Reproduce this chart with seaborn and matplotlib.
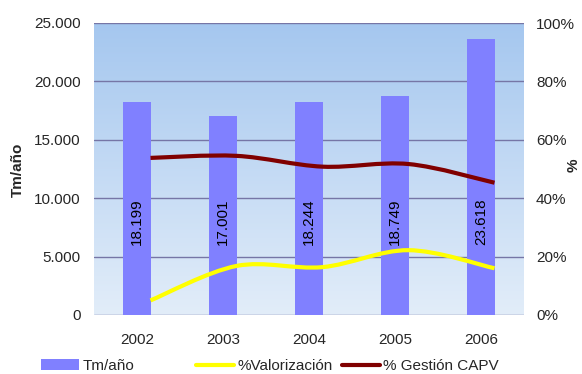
import matplotlib
matplotlib.use("Agg")
import matplotlib.pyplot as plt
import numpy as np
import pandas as pd
import seaborn as sns
from matplotlib.path import Path
from matplotlib.patches import PathPatch, Patch
from matplotlib.lines import Line2D
from matplotlib.colors import LinearSegmentedColormap
from matplotlib.ticker import FuncFormatter

# data
years = ["2002", "2003", "2004", "2005", "2006"]
tm_anio = [18199, 17001, 18244, 18749, 23618]
pct_valorizacion = [5.0, 16.8, 16.4, 22.2, 16.0]
pct_gestion_capv = [53.8, 54.5, 50.8, 51.7, 45.3]

bar_color = "#8080ff"
yellow = "#ffff00"
darkred = "#800000"
grid_color = "#7676a6"
fs = 11

sns.set_theme(style="white")
plt.rcParams["font.family"] = ["Liberation Sans", "DejaVu Sans"]
plt.rcParams["font.size"] = fs

df = pd.DataFrame({"year": years, "tm": tm_anio})

fig = plt.figure(figsize=(5.82, 3.74), dpi=100)
ax = fig.add_axes([94 / 582, 59 / 374, 430 / 582, 292 / 374])

# gradient background of the plot area
cmap = LinearSegmentedColormap.from_list("bg", ["#e2edf9", "#a5c7ef"])
grad = np.linspace(0, 1, 256).reshape(-1, 1)
ax.imshow(grad, cmap=cmap, aspect="auto", extent=[0, 1, 0, 1],
          transform=ax.transAxes, origin="lower", zorder=-5)

sns.barplot(data=df, x="year", y="tm", color=bar_color, saturation=1,
            width=0.314, ax=ax, zorder=3, edgecolor="none", linewidth=0)

ax.set_xlim(-0.5, 4.5)
ax.set_ylim(0, 25000)
ax.set_yticks(range(0, 25001, 5000))
ax.yaxis.set_major_formatter(FuncFormatter(lambda v, p: f"{int(v):,}".replace(",", ".")))
ax.grid(axis="y", color=grid_color, linewidth=1, zorder=1)
ax.set_axisbelow(True)
for s in ax.spines.values():
    s.set_visible(False)
ax.tick_params(axis="y", length=0, pad=9.5, labelsize=fs)
ax.tick_params(axis="x", length=0, pad=13, labelsize=fs)
ax.set_xlabel("")
ax.set_ylabel("")

# value labels inside the bars
for i, v in enumerate(tm_anio):
    ax.text(i, 8000, f"{v:,}".replace(",", "."), rotation=90,
            ha="center", va="center", fontsize=fs, color="black", zorder=5)

# secondary axis with smoothed percentage lines
ax2 = ax.twinx()
ax2.set_ylim(0, 100)
ax2.set_yticks(range(0, 101, 20))
ax2.yaxis.set_major_formatter(FuncFormatter(lambda v, p: f"{int(v)}%"))
ax2.tick_params(axis="y", length=0, pad=8.6, labelsize=fs)
for s in ax2.spines.values():
    s.set_visible(False)


def smooth_path(xs, ys):
    pts = np.column_stack([xs, ys]).astype(float)
    verts = [pts[0]]
    codes = [Path.MOVETO]
    n = len(pts)
    for k in range(n - 1):
        p0 = pts[k - 1] if k > 0 else pts[k]
        p1, p2 = pts[k], pts[k + 1]
        p3 = pts[k + 2] if k + 2 < n else pts[k + 1]
        c1 = p1 + (p2 - p0) / 6
        c2 = p2 - (p3 - p1) / 6
        verts += [c1, c2, p2]
        codes += [Path.CURVE4] * 3
    return Path(verts, codes)


xpos = np.arange(len(years)) + 0.157
for vals, col in [(pct_valorizacion, yellow), (pct_gestion_capv, darkred)]:
    patch = PathPatch(smooth_path(xpos, vals), facecolor="none", edgecolor=col,
                      linewidth=3, capstyle="butt", zorder=4)
    ax2.add_patch(patch)

ax2.set_xlim(-0.5, 4.5)

# axis titles
fig.text(18 / 582, 1 - 170 / 374, "Tm/año", rotation=90, ha="center", va="center",
         fontsize=fs, fontweight="bold")
fig.text(574 / 582, 1 - 165 / 374, "%", rotation=90, ha="center", va="center",
         fontsize=fs, fontweight="bold")

# legend entries placed like the original
y_leg = 1 - 366 / 374
entries = [
    (41, Patch(facecolor=bar_color, edgecolor="none"), "Tm/año"),
    (196, Line2D([], [], color=yellow, linewidth=3), "%Valorización"),
    (342, Line2D([], [], color=darkred, linewidth=3), "% Gestión CAPV"),
]
for x0, h, lab in entries:
    fig.legend([h], [lab], loc="center left", bbox_to_anchor=(x0 / 582, y_leg),
               frameon=False, borderpad=0, borderaxespad=0, handlelength=2.5,
               handletextpad=0.2, handleheight=0.75, fontsize=fs)

fig.savefig("out.png", dpi=100)
